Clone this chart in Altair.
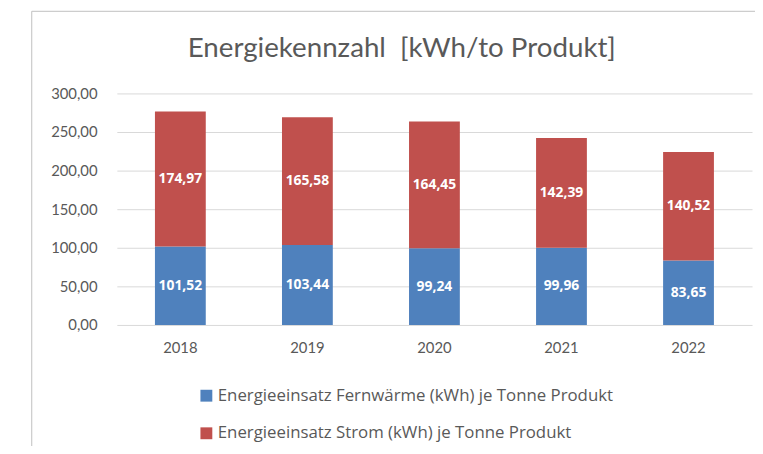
import altair as alt
import pandas as pd

years = ["2018", "2019", "2020", "2021", "2022"]
fernwaerme = [101.52, 103.44, 99.24, 99.96, 83.65]
strom = [174.97, 165.58, 164.45, 142.39, 140.52]
series_names = [
    "Energieeinsatz Fernwärme (kWh) je Tonne Produkt",
    "Energieeinsatz Strom (kWh) je Tonne Produkt",
]
colors = ["#4F81BD", "#C0504D"]
y_ticks = [0, 50, 100, 150, 200, 250, 300]
title_text = "Energiekennzahl\u00a0 [kWh/to Produkt]"

rows = []
for i, y in enumerate(years):
    rows.append({"Jahr": y, "Serie": series_names[0], "Wert": fernwaerme[i], "ord": 0})
    rows.append({"Jahr": y, "Serie": series_names[1], "Wert": strom[i], "ord": 1})
df = pd.DataFrame(rows)

FONT = "Lato"
GREY = "#595959"

x_axis = alt.Axis(labelAngle=0, ticks=False, domain=False, grid=False,
                  labelPadding=16, labelFontSize=15, labelColor=GREY, labelFont=FONT)
y_axis = alt.Axis(values=y_ticks, ticks=False, domain=False, grid=True,
                  gridColor="#D9D9D9", labelPadding=20, labelFontSize=15,
                  labelColor=GREY, labelFont=FONT, labelOverlap=False,
                  labelExpr="replace(format(datum.value, '.2f'), '.', ',')")
x_scale = alt.Scale(paddingInner=0.6, paddingOuter=0.3)
y_scale = alt.Scale(domain=[0, 300], nice=False)

base = alt.Chart(df)

bars = base.mark_bar().encode(
    x=alt.X("Jahr:N", sort=years, title=None, scale=x_scale, axis=x_axis),
    y=alt.Y("Wert:Q", stack="zero", title=None, scale=y_scale, axis=y_axis),
    color=alt.Color("Serie:N", sort=series_names,
                    scale=alt.Scale(domain=series_names, range=colors),
                    legend=alt.Legend(title=None, orient="none", legendX=82, legendY=297,
                                      direction="vertical", symbolType="square",
                                      symbolSize=144, symbolStrokeWidth=0,
                                      labelFontSize=17, labelColor=GREY, labelFont="Open Sans",
                                      labelLimit=0, rowPadding=20, labelOffset=3, padding=0)),
    order=alt.Order("ord:Q", sort="ascending"),
)

labels = base.transform_stack(
    stack="Wert", groupby=["Jahr"], as_=["y0", "y1"], sort=[alt.SortField("ord", "ascending")]
).transform_calculate(
    mid="(datum.y0 + datum.y1) / 2",
    txt="replace(format(datum.Wert, '.2f'), '.', ',')",
).mark_text(color="white", fontWeight="bold", fontSize=14, font="Open Sans").encode(
    x=alt.X("Jahr:N", sort=years, title=None, scale=x_scale, axis=x_axis),
    y=alt.Y("mid:Q", title=None, scale=y_scale, axis=y_axis),
    text="txt:N",
)

frame_df = pd.DataFrame({"k": [0]})
frame_v = alt.Chart(frame_df).mark_rule(color="#BFBFBF", strokeWidth=1).encode(
    x=alt.value(-86), y=alt.value(-83), y2=alt.value(400)
)
frame_h = alt.Chart(frame_df).mark_rule(color="#BFBFBF", strokeWidth=1).encode(
    x=alt.value(-86), x2=alt.value(700), y=alt.value(-83)
)
title_mark = alt.Chart(frame_df).mark_text(
    fontSize=28, font=FONT, color=GREY, align="center", baseline="middle"
).encode(
    x=alt.value(288), y=alt.value(-45), text=alt.value(title_text)
)

chart = alt.layer(frame_v, frame_h, title_mark, bars, labels).properties(
    width=642,
    height=234,
    autosize=alt.AutoSizeParams(type="none"),
    padding={"left": 110, "top": 84, "right": 3, "bottom": 120},
).configure_view(stroke=None)

chart.save("out.html", embed_options={"renderer": "svg", "actions": False})
